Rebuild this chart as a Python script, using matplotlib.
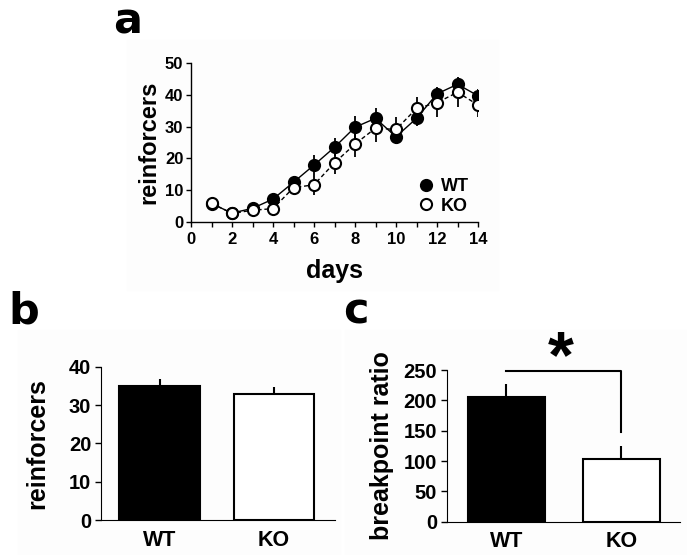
import matplotlib.pyplot as plt
from matplotlib.lines import Line2D
from matplotlib.patches import Rectangle

# panel a: reinforcers per day
days = [1, 2, 3, 4, 5, 6, 7, 8, 9, 10, 11, 12, 13, 14]
wt_mean = [5.8, 2.8, 4.3, 7.2, 12.5, 17.9, 23.5, 29.8, 32.6, 26.8, 32.6, 40.3, 43.3, 39.7]
wt_err = [0.8, 0.6, 0.8, 1.5, 2.0, 3.1, 2.8, 3.4, 3.1, 2.2, 2.5, 2.0, 2.3, 2.0]
ko_mean = [5.9, 2.7, 3.7, 4.2, 10.8, 11.7, 18.6, 24.5, 29.5, 29.1, 35.7, 37.5, 40.8, 36.8]
ko_err = [0.8, 0.6, 0.8, 1.2, 2.0, 3.1, 3.5, 4.0, 4.2, 3.8, 3.7, 4.4, 4.5, 3.9]

# panels b and c: group means
groups = ['WT', 'KO']
reinf_mean = [35.0, 32.9]
reinf_err = [1.8, 1.8]
bp_mean = [206, 104]
bp_err = [21, 20]

plt.rcParams['font.family'] = ['Liberation Sans', 'DejaVu Sans']
plt.rcParams['font.weight'] = 'bold'

fig = plt.figure(figsize=(6.87, 5.55), dpi=100)

# faint panel backgrounds
def tint(x0, y0, x1, y1):
    fig.patches.append(Rectangle((x0 / 687, 1 - y1 / 555), (x1 - x0) / 687, (y1 - y0) / 555,
                                 transform=fig.transFigure, color='#fdfdfd', zorder=-5))

tint(127, 40, 498, 290)
tint(18, 330, 340, 555)
tint(345, 330, 687, 555)

# ---- panel a ----
ax = fig.add_axes([191 / 687, 1 - 222 / 555, 287 / 687, 159 / 555])
ax.set_facecolor('none')
ax.errorbar(days, wt_mean, yerr=wt_err, fmt='none', ecolor='black', elinewidth=1.3, capsize=0, zorder=2)
ax.errorbar(days, ko_mean, yerr=ko_err, fmt='none', ecolor='black', elinewidth=1.3, capsize=0, zorder=2)
ax.plot(days, wt_mean, '-', color='black', lw=1.0, zorder=3)
ax.plot(days, ko_mean, '--', color='black', lw=1.0, dashes=(3, 2), zorder=3)
ax.plot(days, wt_mean, 'o', ms=8, mfc='black', mec='black', mew=1.5, ls='none', zorder=4)
ax.plot(days, ko_mean, 'o', ms=8, mfc='white', mec='black', mew=1.5, ls='none', zorder=5)
ax.set_xlim(0, 14)
ax.set_ylim(0, 50)
ax.set_xticks(range(0, 15, 2))
ax.set_xticks(range(1, 15, 2), minor=True)
ax.set_yticks(range(0, 51, 10))
for s in ['top', 'right']:
    ax.spines[s].set_visible(False)
for s in ['left', 'bottom']:
    ax.spines[s].set_linewidth(1.0)
ax.tick_params(which='both', direction='out', length=3.5, width=1.0, labelsize=12, pad=2)
ax.tick_params(axis='x', pad=4)
ax.set_xlabel('days', fontsize=18, fontweight='bold', labelpad=8)
ax.set_ylabel('reinforcers', fontsize=17, fontweight='bold', labelpad=3)
handles = [Line2D([], [], marker='o', ls='none', ms=8, mfc='black', mec='black', mew=1.5),
           Line2D([], [], marker='o', ls='none', ms=8, mfc='white', mec='black', mew=1.5)]
ax.legend(handles, ['WT', 'KO'], loc='lower right', bbox_to_anchor=(1.0, -0.01), frameon=False,
          handlelength=0.8, handletextpad=0.4, labelspacing=0.15, borderpad=0,
          prop={'size': 13, 'weight': 'bold'})
fig.text(128 / 687, 1 - 21 / 555, 'a', fontsize=31, fontweight='bold', family='DejaVu Sans',
         ha='center', va='center')

# ---- panel b ----
axb = fig.add_axes([101 / 687, 1 - 520 / 555, 234 / 687, 153.3 / 555])
axb.set_facecolor('none')
axb.bar([0, 1], reinf_mean, width=0.7, color=['black', 'white'], edgecolor='black', linewidth=1.5, zorder=3)
axb.errorbar([0, 1], reinf_mean, yerr=[[0, 0], reinf_err], fmt='none', ecolor='black', elinewidth=1.5,
             capsize=0, zorder=2)
axb.set_xlim(-0.511, 1.533)
axb.set_ylim(0, 40)
axb.set_yticks(range(0, 41, 10))
axb.set_xticks([0, 1])
axb.set_xticklabels(groups)
for s in ['top', 'right']:
    axb.spines[s].set_visible(False)
axb.tick_params(axis='y', direction='out', length=4, width=1.0, labelsize=14.5, pad=3)
axb.tick_params(axis='x', length=0, labelsize=15.5, pad=7)
axb.set_ylabel('reinforcers', fontsize=18, fontweight='bold', labelpad=14)
fig.text(24 / 687, 1 - 312 / 555, 'b', fontsize=31, fontweight='bold', family='DejaVu Sans',
         ha='center', va='center')

# ---- panel c ----
axc = fig.add_axes([446.7 / 687, 1 - 521.7 / 555, 233.3 / 687, 151.7 / 555])
axc.set_facecolor('none')
axc.bar([0, 1], bp_mean, width=0.67, color=['black', 'white'], edgecolor='black', linewidth=1.5, zorder=3)
axc.errorbar([0, 1], bp_mean, yerr=[[0, 0], bp_err], fmt='none', ecolor='black', elinewidth=1.5,
             capsize=0, zorder=2)
axc.set_xlim(-0.518, 1.51)
axc.set_ylim(0, 250)
axc.set_yticks(range(0, 251, 50))
axc.set_xticks([0, 1])
axc.set_xticklabels(groups)
for s in ['top', 'right']:
    axc.spines[s].set_visible(False)
axc.tick_params(axis='y', direction='out', length=4, width=1.0, labelsize=14.5, pad=3)
axc.tick_params(axis='x', length=0, labelsize=15.5, pad=7)
axc.set_ylabel('breakpoint ratio', fontsize=18, fontweight='bold', labelpad=7)
# significance bracket
axc.plot([0, 1, 1], [248, 248, 148], color='black', lw=1.5, clip_on=False)
axc.text(0.47, 266, '*', fontsize=48, fontweight='bold', ha='center', va='center', clip_on=False)
fig.text(356 / 687, 1 - 312 / 555, 'c', fontsize=31, fontweight='bold', family='DejaVu Sans',
         ha='center', va='center')

fig.savefig('out.png', dpi=100)
